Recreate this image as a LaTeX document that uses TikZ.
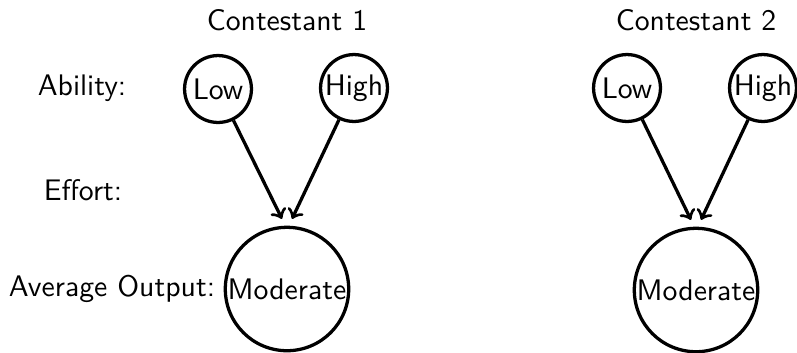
\documentclass[tikz,border=0pt]{standalone}
\usetikzlibrary{calc}
\begin{document}
\begin{tikzpicture}[x=0.3363pt, y=-0.3363pt,
  every node/.style={font=\sffamily},
  state/.style={circle, draw, line width=1.1pt, inner sep=0pt, minimum size=22.5pt},
  bigstate/.style={state, minimum size=41.5pt},
  rowlabel/.style={anchor=center},
  link/.style={->, line width=1.1pt}]
  \useasboundingbox (0,0) rectangle (797,352);

  % row labels
  \node[rowlabel] (labAbility) at (82,88) {Ability:};
  \node[rowlabel] (labEffort) at (83,190) {Effort:};
  \node[rowlabel] (labOutput) at (112,289) {Average Output:};

  % contestant 1
  \node (c1) at (287,20) {Contestant 1};
  \node[state] (low1) at (218,89) {Low};
  \node[state] (high1) at (354,88) {High};
  \node[bigstate] (mod1) at (287,289) {Moderate};
  \draw[link] (low1) -- ([xshift=-1.7pt,yshift=2.3pt]mod1.north);
  \draw[link] (high1) -- ([xshift=1.7pt,yshift=2.3pt]mod1.north);

  % contestant 2
  \node (c2) at (696,20) {Contestant 2};
  \node[state] (low2) at (627,88) {Low};
  \node[state] (high2) at (763,88) {High};
  \node[bigstate] (mod2) at (696,290) {Moderate};
  \draw[link] (low2) -- ([xshift=-1.7pt,yshift=2.3pt]mod2.north);
  \draw[link] (high2) -- ([xshift=1.7pt,yshift=2.3pt]mod2.north);
\end{tikzpicture}
\end{document}
